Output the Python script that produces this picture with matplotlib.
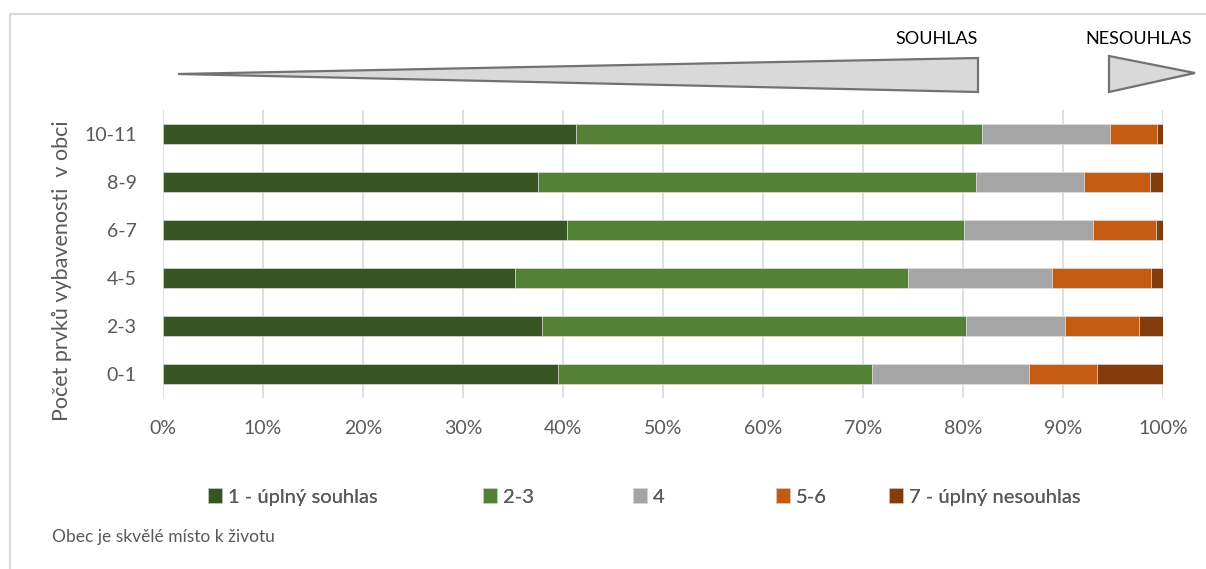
import matplotlib.pyplot as plt
from matplotlib.patches import Polygon
from matplotlib.lines import Line2D
import numpy as np

W, H = 1206, 569

categories = ["0-1", "2-3", "4-5", "6-7", "8-9", "10-11"]
series_names = ["1 - úplný souhlas", "2-3", "4", "5-6", "7 - úplný nesouhlas"]
colors = ["#375623", "#548235", "#A5A5A5", "#C55A11", "#843C0C"]

# shares in %, rows follow categories (bottom to top)
s1 = [39.5, 37.9, 35.2, 40.4, 37.5, 41.3]
s23 = [31.4, 42.4, 39.3, 39.7, 43.8, 40.6]
s4 = [15.7, 9.9, 14.4, 12.9, 10.8, 12.8]
s56 = [6.8, 7.4, 9.9, 6.3, 6.6, 4.7]
s7 = [6.6, 2.4, 1.2, 0.7, 1.3, 0.6]

x_ticks = np.arange(0, 101, 10)
x_labels = [f"{t}%" for t in x_ticks]

plt.rcParams['font.family'] = ['Lato', 'DejaVu Sans']
text_col = "#595959"

fig = plt.figure(figsize=(W / 100, H / 100), dpi=100)
ax = fig.add_axes([163 / W, 1 - 398 / H, 1000 / W, 288 / H])

y = np.arange(len(categories))
left = np.zeros(len(categories))
for vals, name, col in zip([s1, s23, s4, s56, s7], series_names, colors):
    ax.barh(y, vals, left=left, height=0.4, color=col, label=name,
            edgecolor="#e6e6e6", linewidth=0.4, zorder=3)
    left += np.array(vals)

ax.set_xlim(0, 100)
ax.set_ylim(-0.5, len(categories) - 0.5)
ax.set_xticks(x_ticks)
ax.set_xticklabels(x_labels)
ax.set_yticks(y)
ax.set_yticklabels(categories)
ax.tick_params(axis="both", length=0, labelsize=14, colors=text_col)
ax.tick_params(axis="x", pad=16)
ax.tick_params(axis="y", pad=19)
ax.grid(axis="x", color="#d9d9d9", linewidth=1.2, zorder=0)
for sp in ax.spines.values():
    sp.set_visible(False)
ax.set_ylabel("Počet prvků vybavenosti  v obci", fontsize=15.5, color=text_col)
ax.yaxis.set_label_coords((72 - 163) / 1000, (398 - 271) / 288)

# legend: one entry per legend box, placed like the original
handles, labels = ax.get_legend_handles_labels()
legend_x = [208, 483, 633, 776, 889]
for h, lab, lx in zip(handles, labels, legend_x):
    fig.add_artist(fig.legend([h], [lab], loc="center left",
                              bbox_to_anchor=(lx / W, 1 - 497 / H),
                              frameon=False, fontsize=14.5, labelcolor=text_col,
                              handlelength=0.7, handleheight=0.7,
                              handletextpad=0.3, borderpad=0,
                              borderaxespad=0))

fig.text(52 / W, 1 - 537 / H, "Obec je skvělé místo k životu", fontsize=12.5,
         color=text_col, va="center", ha="left")

# arrows on top
def px(pts):
    return [(a / W, 1 - b / H) for a, b in pts]

big = Polygon(px([(178, 74), (978, 58), (978, 92)]), closed=True,
              facecolor="#d9d9d9", edgecolor="#767171", linewidth=1.6,
              transform=fig.transFigure)
small = Polygon(px([(1109, 56), (1195, 73), (1109, 92)]), closed=True,
                facecolor="#d9d9d9", edgecolor="#767171", linewidth=1.6,
                transform=fig.transFigure)
fig.add_artist(big)
fig.add_artist(small)
fig.text(937 / W, 1 - 39 / H, "SOUHLAS", fontsize=13, color="black",
         ha="center", va="center")
fig.text(1139 / W, 1 - 39 / H, "NESOUHLAS", fontsize=13, color="black",
         ha="center", va="center")

# chart frame (top and left visible)
fig.add_artist(Line2D([10 / W, 10 / W, 1.0], [0, 1 - 14 / H, 1 - 14 / H],
                      color="#d9d9d9", linewidth=1.5,
                      transform=fig.transFigure))

fig.savefig("out.png", dpi=100)
